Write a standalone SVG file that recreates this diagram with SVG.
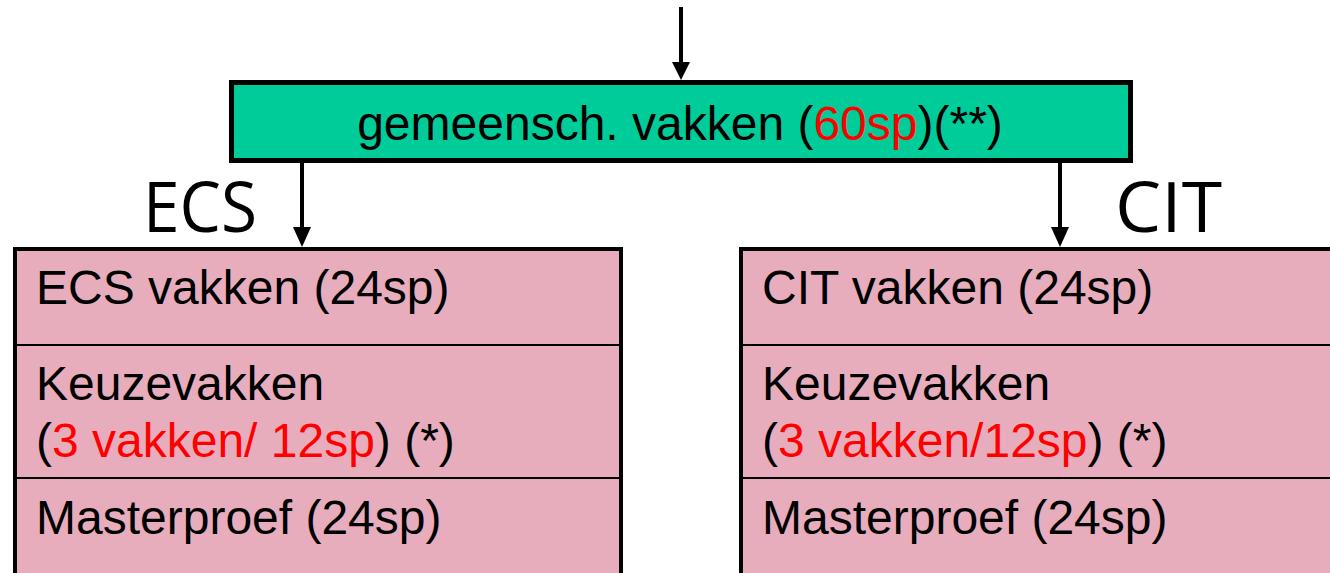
<svg xmlns="http://www.w3.org/2000/svg" width="1330" height="573" viewBox="0 0 1330 573">
<style>
.t{font-family:"Liberation Sans",Arial,sans-serif;font-size:48px;fill:#000}
.r{fill:#FF0000}
.lbl{font-family:"Open Sans","Liberation Sans",sans-serif;font-size:70px;fill:#000}
.pink{fill:#E8ADBD;stroke:#000;stroke-width:4}
.div{stroke:#000;stroke-width:2}
.conn{stroke:#000;stroke-width:4;fill:none}
</style>
<defs>
<marker id="ah" markerUnits="userSpaceOnUse" markerWidth="18" markerHeight="20" refX="9" refY="20" orient="auto-start-reverse" viewBox="0 0 18 20">
<path d="M0,0 L18,0 L9,20 Z" fill="#000"/>
</marker>
</defs>
<rect width="1330" height="573" fill="#fff"/>
<g id="common">
<rect x="231.5" y="82.5" width="899" height="78" fill="#00CC99" stroke="#000" stroke-width="5"/>
<text class="t" x="680" y="140" text-anchor="middle">gemeensch. vakken (<tspan class="r">60sp</tspan>)(**)</text>
</g>
<g id="ecs-label"><text class="lbl" x="143" y="232" textLength="114" lengthAdjust="spacingAndGlyphs">ECS</text></g>
<g id="cit-label"><text class="lbl" x="1115" y="232" textLength="107" lengthAdjust="spacingAndGlyphs">CIT</text></g>
<g id="ecs">
<rect class="pink" x="15" y="249" width="606" height="340"/>
<line class="div" x1="15" y1="345" x2="621" y2="345"/>
<line class="div" x1="15" y1="478" x2="621" y2="478"/>
<text class="t" x="36" y="304">ECS vakken (24sp)</text>
<text class="t" x="36" y="400">Keuzevakken</text>
<text class="t" x="36" y="457">(<tspan class="r">3 vakken/ 12sp</tspan>) (*)</text>
<text class="t" x="36" y="534">Masterproef (24sp)</text>
</g>
<g id="cit">
<rect class="pink" x="741" y="249" width="620" height="340"/>
<line class="div" x1="741" y1="345" x2="1330" y2="345"/>
<line class="div" x1="741" y1="478" x2="1330" y2="478"/>
<text class="t" x="762" y="304">CIT vakken (24sp)</text>
<text class="t" x="762" y="400">Keuzevakken</text>
<text class="t" x="762" y="457">(<tspan class="r">3 vakken/12sp</tspan>) (*)</text>
<text class="t" x="762" y="534">Masterproef (24sp)</text>
</g>
<g id="connectors">
<line class="conn" x1="681" y1="7" x2="681" y2="62" />
<path d="M672,62 L690,62 L681,80 Z" fill="#000"/>
<line class="conn" x1="302" y1="160" x2="302" y2="228"/>
<path d="M293,227 L311,227 L302,247 Z" fill="#000"/>
<line class="conn" x1="1060" y1="160" x2="1060" y2="228"/>
<path d="M1051,227 L1069,227 L1060,247 Z" fill="#000"/>
</g>
</svg>
